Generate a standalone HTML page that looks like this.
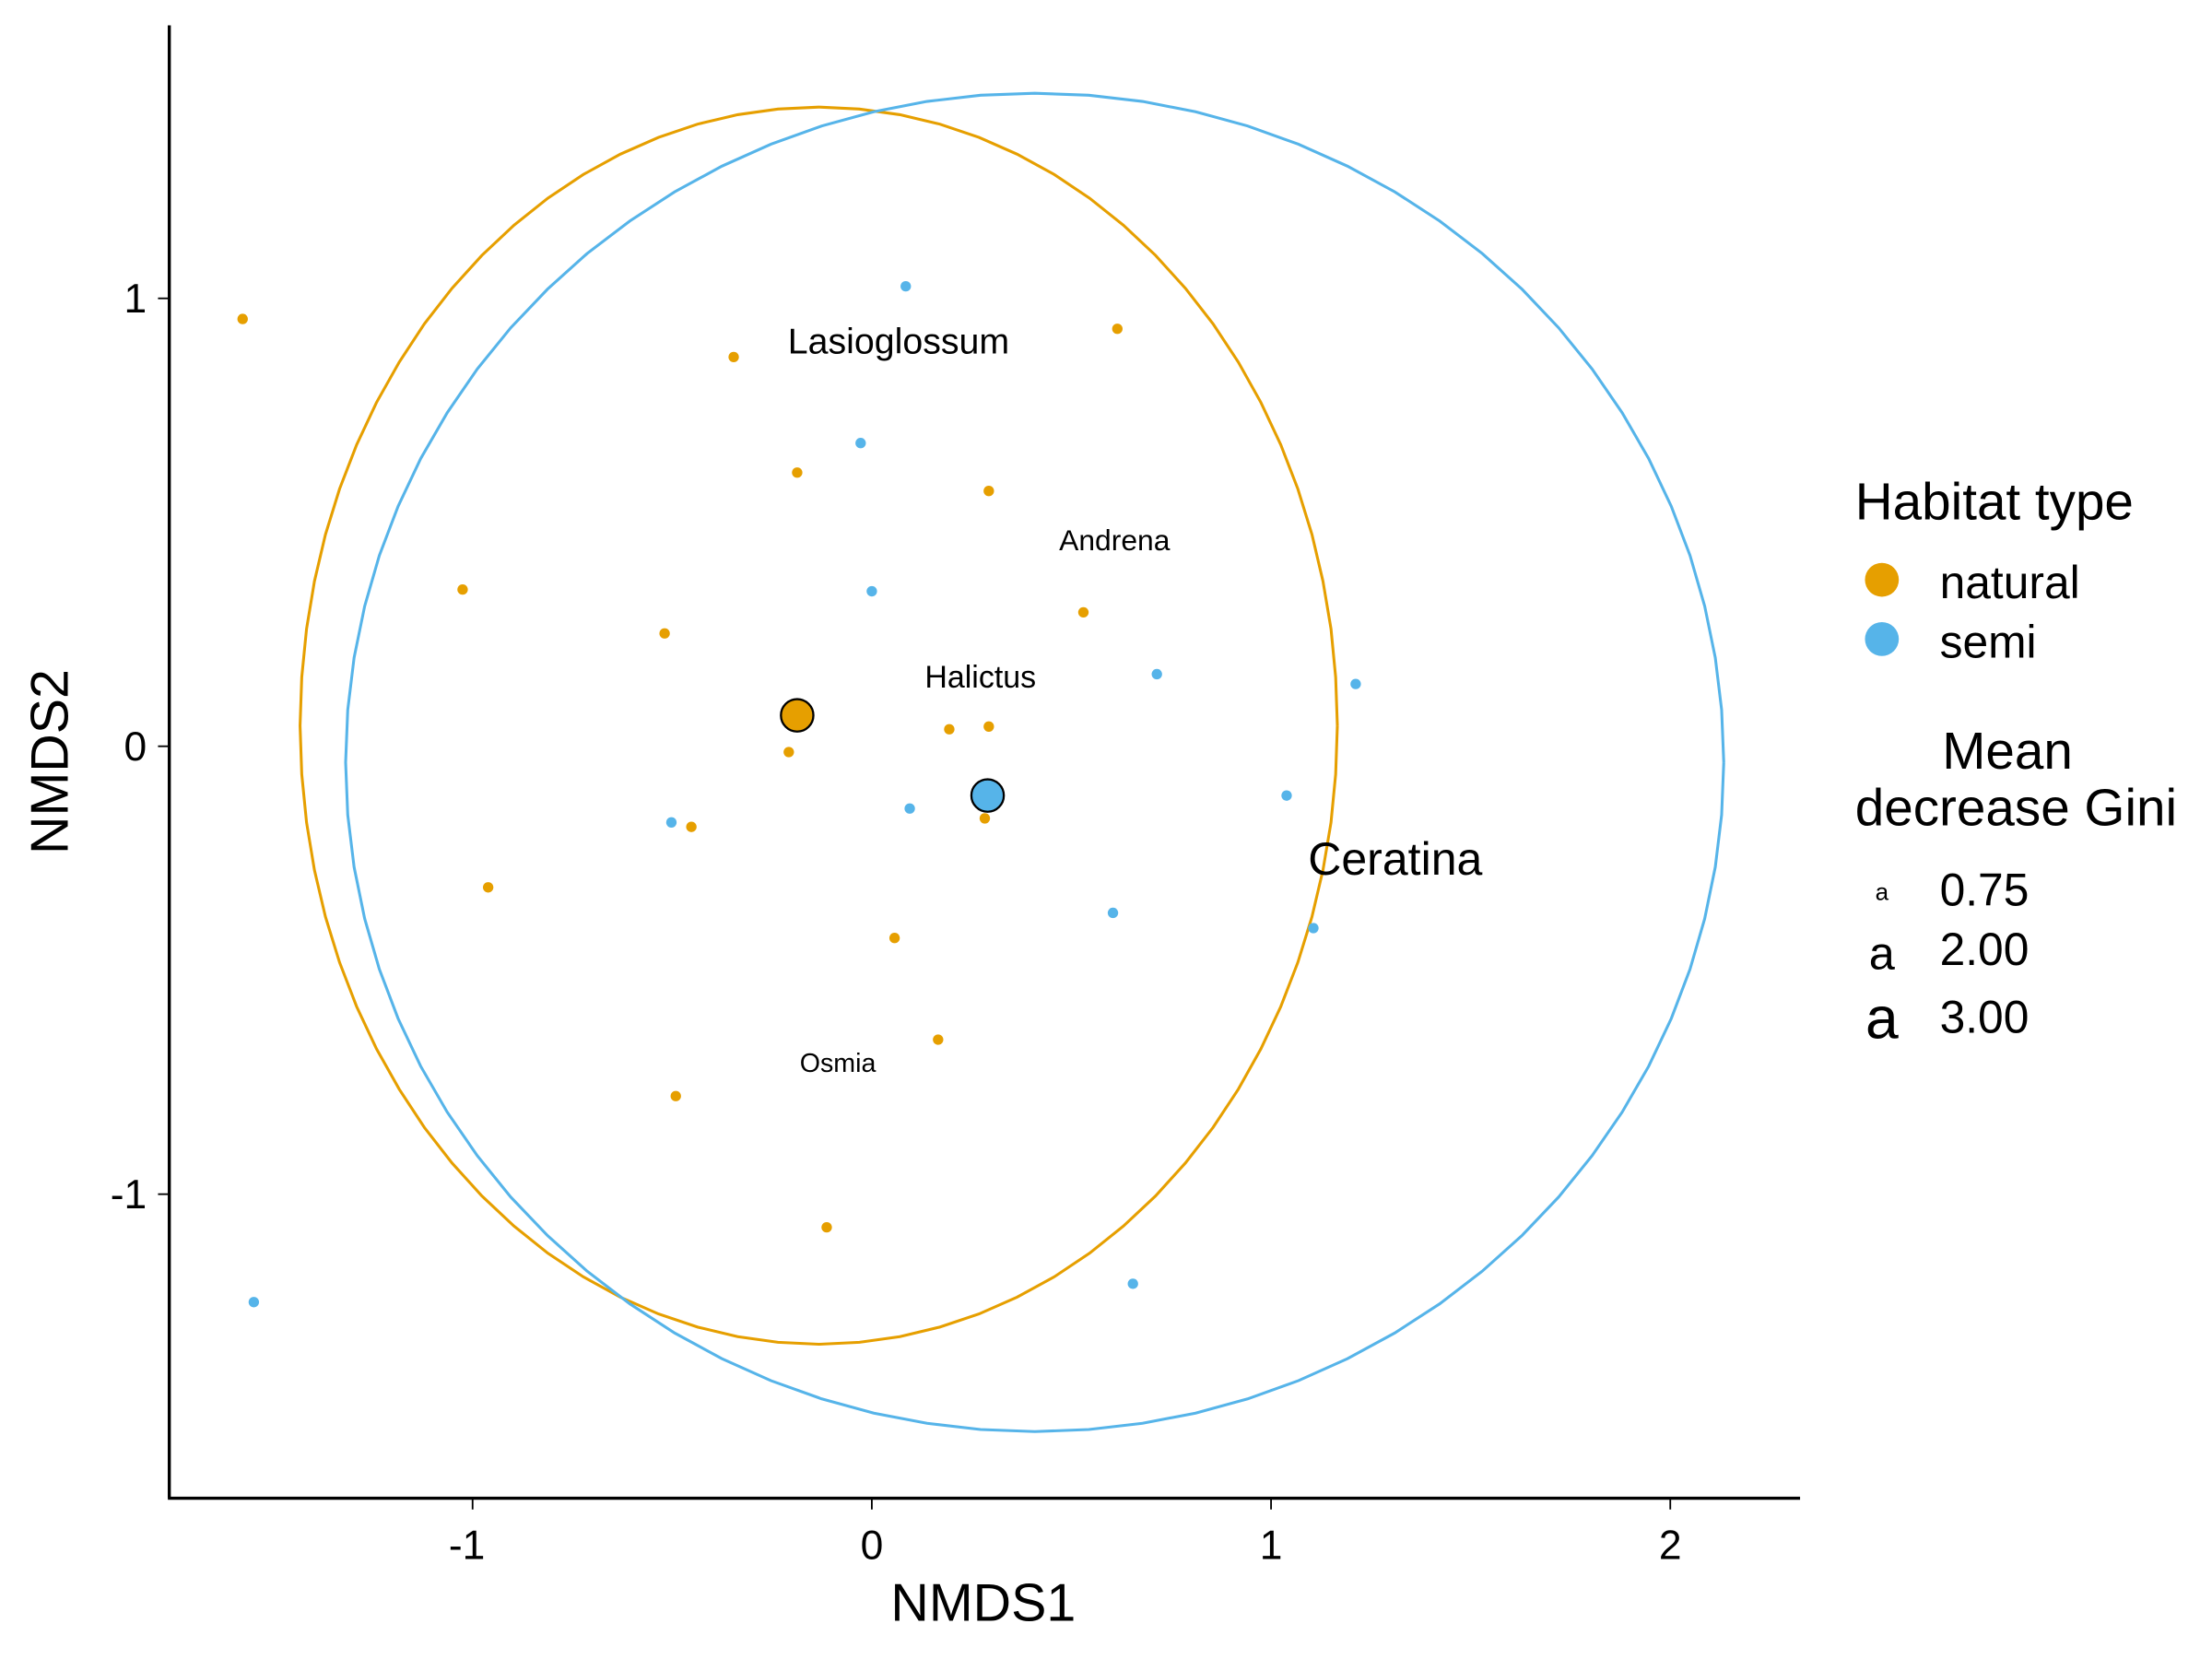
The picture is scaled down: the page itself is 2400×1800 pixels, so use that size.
<!DOCTYPE html>
<html><head><meta charset="utf-8"><style>
html,body{margin:0;padding:0;background:#fff;}
svg{display:block;font-family:"Liberation Sans",Arial,sans-serif;}
</style></head><body>
<svg id="chart" width="2400" height="1800" viewBox="0 0 1568 1176" xmlns="http://www.w3.org/2000/svg">
<rect width="1568" height="1176" fill="#fff"/>
<g id="ellipses"></g>
<g id="points"></g>
<g id="labels"></g>
<g id="axes"></g>
<g id="legend">
 <text x="1315" y="368" font-size="37">Habitat type</text>
 <circle cx="1334" cy="411" r="12" fill="#E69F00"/>
 <text x="1375" y="424" font-size="32.5">natural</text>
 <circle cx="1334" cy="453" r="12" fill="#56B4E9"/>
 <text x="1375" y="466" font-size="32.5">semi</text>
 <text x="1423" y="545" font-size="37" text-anchor="middle">Mean</text>
 <text x="1315" y="585" font-size="37">decrease Gini</text>
 <text x="1334" y="638" font-size="17" text-anchor="middle">a</text>
 <text x="1375" y="642" font-size="32.5">0.75</text>
 <text x="1334" y="687" font-size="33" text-anchor="middle">a</text>
 <text x="1375" y="684" font-size="32.5">2.00</text>
 <text x="1334" y="736" font-size="42" text-anchor="middle">a</text>
 <text x="1375" y="732" font-size="32.5">3.00</text>
</g>
</svg>
<script>
const natX=[-1.576,-0.346,0.615,-0.187,0.293,-1.025,-0.519,0.530,0.194,0.293,-0.208,-0.452,0.283,-0.961,0.057,0.166,-0.491,-0.113];
const natY=[0.954,0.869,0.932,0.611,0.570,0.350,0.252,0.299,0.038,0.044,-0.013,-0.180,-0.161,-0.315,-0.428,-0.655,-0.781,-1.074];
const semiX=[0.085,-0.028,0.0,0.714,1.212,-0.502,0.095,1.039,0.604,1.106,0.654,-1.548];
const semiY=[1.027,0.677,0.346,0.161,0.139,-0.170,-0.139,-0.110,-0.372,-0.406,-1.200,-1.241];
const centroidX=[-0.187,0.290];
const centroidY=[0.069,-0.110];
const groups=["natural","semi"];
const ellCX=[-0.133,0.408];
const ellCY=[0.046,-0.036];
const ellRX=[1.299,1.726];
const ellRY=[1.381,1.494];
const species=["Lasioglossum","Andrena","Halictus","Ceratina","Osmia"];
const specX=[0.067,0.608,0.272,1.311,-0.085];
const specY=[0.904,0.460,0.154,-0.252,-0.709];
const specGini=[2.0,1.3,1.5,3.0,1.0];
const xTicks=[-1,0,1,2];
const yTicks=[-1,0,1];

const colors=["#E69F00","#56B4E9"];
const NS="http://www.w3.org/2000/svg";
const X=v=>618+283*v;
const Y=v=>529-317.5*v;
function mk(tag,attrs,parent){const e=document.createElementNS(NS,tag);for(const k in attrs)e.setAttribute(k,attrs[k]);document.getElementById(parent).appendChild(e);return e;}

for(let g=0;g<2;g++){
 const pts=[];
 for(let i=0;i<=80;i++){const t=2*Math.PI*i/80;pts.push(X(ellCX[g]+ellRX[g]*Math.cos(t)).toFixed(1)+","+Y(ellCY[g]+ellRY[g]*Math.sin(t)).toFixed(1));}
 const e=mk("polyline",{points:pts.join(" "),fill:"none",stroke:colors[g],"stroke-width":2},"ellipses");
 
 
}
natX.forEach((x,i)=>{const c=mk("circle",{cx:X(x),cy:Y(natY[i]),r:3.7,fill:colors[0]},"points");
 
 });
semiX.forEach((x,i)=>{const c=mk("circle",{cx:X(x),cy:Y(semiY[i]),r:3.7,fill:colors[1]},"points");
 
 });
centroidX.forEach((x,i)=>{const c=mk("circle",{cx:X(x),cy:Y(centroidY[i]),r:11.5,fill:colors[i],stroke:"#000","stroke-width":1.5},"points");
 
 });
species.forEach((s,i)=>{const t=mk("text",{x:X(specX[i]),y:Y(specY[i]),"font-size":(11.7+7*specGini[i]).toFixed(1),"text-anchor":"middle","dominant-baseline":"central"},"labels");
 t.textContent=s;
 
 });

let a=mk("line",{x1:120,y1:18,x2:120,y2:1062,stroke:"#000","stroke-width":2.2},"axes");


a=mk("line",{x1:119,y1:1062,x2:1276,y2:1062,stroke:"#000","stroke-width":2.2},"axes");


xTicks.forEach(v=>{const l=mk("line",{x1:X(v),y1:1062,x2:X(v),y2:1070,stroke:"#000","stroke-width":1.2},"axes");
 
 
 const t=mk("text",{x:X(v)-(v<0?4:0),y:1105,"font-size":29,"text-anchor":"middle"},"axes");t.textContent=v;
 
 });
yTicks.forEach(v=>{const l=mk("line",{x1:112,y1:Y(v),x2:120,y2:Y(v),stroke:"#000","stroke-width":1.2},"axes");
 
 
 const t=mk("text",{x:104,y:Y(v)+10,"font-size":29,"text-anchor":"end"},"axes");t.textContent=v;
 
 });
let tt=mk("text",{x:697,y:1149,"font-size":37.5,"text-anchor":"middle"},"axes");tt.textContent="NMDS1";


tt=mk("text",{x:0,y:0,"font-size":37.5,"text-anchor":"middle",transform:"translate(48,540) rotate(-90)"},"axes");tt.textContent="NMDS2";


</script>
</body></html>
